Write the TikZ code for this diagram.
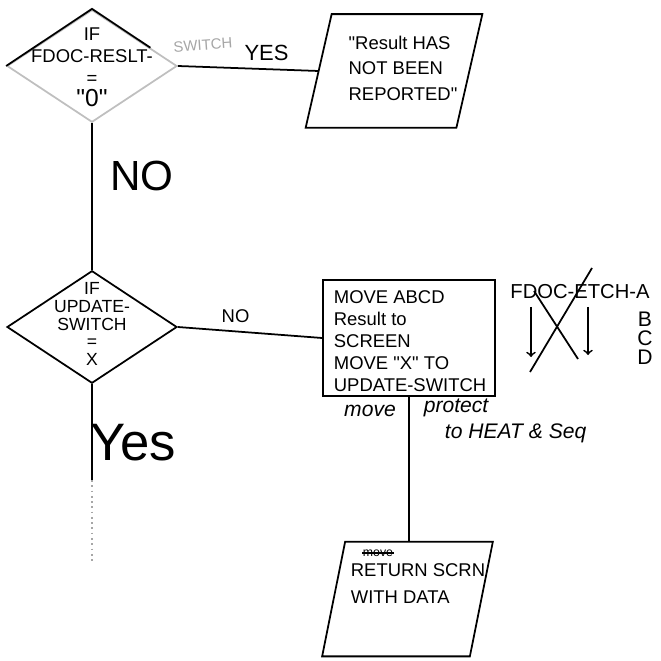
\documentclass[tikz,border=0pt]{standalone}
\usepackage{fontspec}
\newfontfamily\hand{Liberation Sans}
\usepackage{tikz}
\usetikzlibrary{shapes}
\usetikzlibrary{positioning}
\usetikzlibrary{calc}

\begin{document}
\begin{tikzpicture}[
    x=0.02cm, y=-0.02cm,
    line width=1pt,
    font=\hand\fontsize{10.5}{12.5}\selectfont,
    decision/.style={diamond, draw, inner sep=+0pt, minimum width=3.4cm, minimum height=2.25cm},
    slantbody/.style={rectangle, inner sep=+0pt},
    process/.style={rectangle, draw, inner sep=+0pt, minimum width=3.44cm, minimum height=2.32cm},
    txt/.style={inner sep=+0pt, align=left},
    big/.style={inner sep=+0pt, font=\hand\fontsize{24}{26}\selectfont},
    scrawl/.style={inner sep=+0pt, align=left, font=\hand\itshape\fontsize{12}{14}\selectfont}
    ]
\useasboundingbox (0,0) rectangle (660,661);

% first test
\node[decision, draw=black!25] (ifrslt) at (92,66) {};
\draw (ifrslt.west) -- (ifrslt.north) -- ($(ifrslt.north)!0.68!(ifrslt.east)$);
\node[txt, align=center] (ifrslttxt) at (92,67) {IF\\FDOC-RESLT-\\=\\{\fontsize{14}{14}\selectfont"0"}};
\node[txt, text=black!35, font=\hand\fontsize{8.5}{9}\selectfont, rotate=4] (swtxt) at (203,45) {SWITCH};

\node[slantbody, minimum width=2.98cm, minimum height=2.24cm] (notrep) at (394,71) {};
\draw ($(notrep.north west)+(13,0)$) -- ($(notrep.north east)+(13,0)$) -- ($(notrep.south east)+(-13,0)$) -- ($(notrep.south west)+(-13,0)$) -- cycle;
\node[txt] (notreptxt) at (403,68) {"Result HAS\\[2pt] NOT BEEN\\[2pt] REPORTED"};
\draw (ifrslt.east) -- (notrep.west) node[pos=0.63, above=1pt, font=\hand\fontsize{12.5}{13}\selectfont] {YES};

\node[big] (nolbl) at (142,176) {NO};

% second test
\node[decision] (ifupd) at (92,327) {};
\node[txt, align=center, font=\hand\fontsize{10}{10}\selectfont] (ifupdtxt) at (92,324) {IF\\UPDATE-\\SWITCH\\=\\X};
\draw (ifrslt.south) -- (ifupd.north);

\node[process] (mvres) at (409,338) {};
\node[txt, anchor=north west] (mvrestxt) at (333,290) {MOVE ABCD\\Result to\\SCREEN\\MOVE "X" TO\\UPDATE-SWITCH};
\draw (ifupd.east) -- (mvres.west) node[pos=0.4, above=1pt] {NO};

% yes branch
\coordinate (yesend) at (92,480);
\coordinate (yesfade) at (92,562);
\draw (ifupd.south) -- (yesend);
\draw[black!35, dotted] (yesend) -- (yesfade);
\node[big, font=\hand\fontsize{30}{32}\selectfont] (yeslbl) at (133,443) {Yes};

% return
\node[slantbody, minimum width=2.92cm, minimum height=2.26cm] (retscr) at (407.5,599) {};
\draw ($(retscr.north west)+(11.5,0)$) -- ($(retscr.north east)+(11.5,0)$) -- ($(retscr.south east)+(-11.5,0)$) -- ($(retscr.south west)+(-11.5,0)$) -- cycle;
\draw (mvres.south) -- (mvres.south |- retscr.north);
\node[txt, font=\hand\fontsize{7}{8}\selectfont] (strk) at (378,553) {move};
\draw[line width=0.6pt] (strk.west) -- (strk.east);
\node[txt, anchor=north west] (retscrtxt) at (350,563) {RETURN SCRN\\[3pt]WITH DATA};

\node[scrawl] (mvnote) at (370,411) {move};
\node[scrawl, anchor=north west] (protnote) at (423,398) {protect\\[1pt]\quad to HEAT \& Seq};

% fetch note
\node[txt, font=\hand\fontsize{11.5}{12}\selectfont] (fetch) at (580,292) {FDOC-ETCH-A};
\node[txt, align=center, font=\hand\fontsize{12}{10.8}\selectfont] (fbcd) at (645,338) {B\\C\\D};
\coordinate (arla) at (531,307);
\coordinate (arlb) at (531,357);
\coordinate (arra) at (588,307);
\coordinate (arrb) at (588,355);
\draw[->] (arla) -- (arlb);
\draw[->] (arra) -- (arrb);
\coordinate (xaa) at (534,291);
\coordinate (xab) at (578,359);
\coordinate (xba) at (592,268);
\coordinate (xbb) at (530,372);
\draw (xaa) -- (xab);
\draw (xba) -- (xbb);

\end{tikzpicture}
\end{document}
